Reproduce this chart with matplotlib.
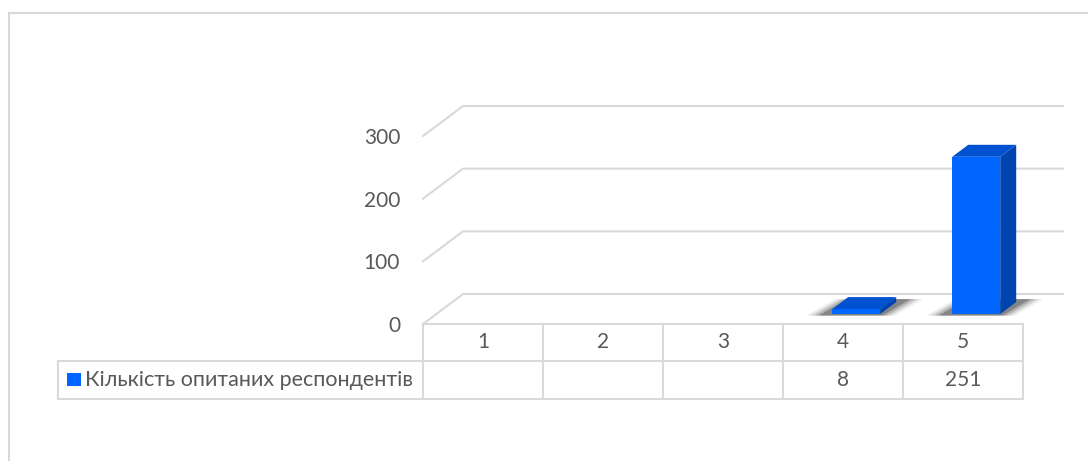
import numpy as np
import matplotlib.pyplot as plt
from matplotlib.patches import Polygon, Rectangle
from matplotlib.lines import Line2D

plt.rcParams['font.family'] = ['Lato', 'DejaVu Sans']

# дані
categories = ["1", "2", "3", "4", "5"]
values = [np.nan, np.nan, np.nan, 8, 251]
series_name = "Кількість опитаних респондентів"
y_ticks = [0, 100, 200, 300]

TXT = "#595959"
GRID = "#D9D9D9"
FRONT = "#0066FF"
SIDE = "#0044B0"
TOP = "#0052D0"
FS = 15

W, H = 1088, 461
fig = plt.figure(figsize=(W / 100, H / 100), dpi=100)

# область графіка (передня площина)
ax_l, ax_r, ax_b, ax_t = 423, 1023, 324, 136
ax = fig.add_axes([ax_l / W, (H - ax_b) / H, (ax_r - ax_l) / W, (ax_b - ax_t) / H])
ax.set_xlim(0, len(categories))
ax.set_ylim(0, 300)
for s in ax.spines.values():
    s.set_visible(False)
ax.set_xticks([])
ax.set_yticks(y_ticks)
ax.tick_params(axis="y", length=0, pad=16.5, labelsize=FS, labelcolor=TXT)

# глибина 3D (у пікселях -> одиниці даних)
px_x = len(categories) / (ax_r - ax_l)
px_y = 300 / (ax_b - ax_t)
DX, DY = 40 * px_x, 30 * px_y


def P(x, y, d):
    return (x + d * DX, y + d * DY)


# сітка: діагональ + задня стінка
for v in y_ticks:
    xs = [0, 0 + DX, len(categories) + DX]
    ys = [v, v + DY, v + DY]
    ax.plot(xs, ys, color=GRID, lw=1.5, clip_on=False, zorder=1)

# стовпчики
bw = 0.4
df, db = 0.33, 0.73
for i, v in enumerate(values):
    if np.isnan(v):
        continue
    xl, xr = i + 0.5 - bw / 2, i + 0.5 + bw / 2
    # тінь
    for k, a in enumerate([0.07, 0.11, 0.16, 0.24]):
        e = 0.14 - k * 0.035
        ax.add_patch(Polygon([P(xl - e - 0.06, 0, df - 0.05), P(xr + e, 0, df - 0.05),
                              P(xr + e + 0.05, 0, db + 0.1), P(xl - e, 0, db + 0.1)],
                             closed=True, fc="black", ec="none", alpha=a,
                             clip_on=False, zorder=2))
    ax.add_patch(Polygon([P(xr, 0, df), P(xr, 0, db), P(xr, v, db), P(xr, v, df)],
                         closed=True, fc=SIDE, ec="none", clip_on=False, zorder=3))
    ax.add_patch(Polygon([P(xl, v, df), P(xr, v, df), P(xr, v, db), P(xl, v, db)],
                         closed=True, fc=TOP, ec="none", clip_on=False, zorder=3))
    ax.add_patch(Polygon([P(xl, 0, df), P(xr, 0, df), P(xr, v, df), P(xl, v, df)],
                         closed=True, fc=FRONT, ec="none", clip_on=False, zorder=4))

# таблиця даних під графіком
tr = ax.get_xaxis_transform()
h_ax = ax_b - ax_t
r1 = -(361 - ax_b) / h_ax
r2 = -(399 - ax_b) / h_ax
leg_x = (58 - ax_l) * px_x
n = len(categories)
kw = dict(color=GRID, lw=1.5, transform=tr, clip_on=False, zorder=1)
ax.plot([0, n], [0, 0], **kw)
ax.plot([leg_x, n], [r1, r1], **kw)
ax.plot([leg_x, n], [r2, r2], **kw)
ax.plot([leg_x, leg_x], [r1, r2], **kw)
for j in range(n + 1):
    ax.plot([j, j], [0, r2], **kw)

for j, c in enumerate(categories):
    ax.text(j + 0.5, r1 / 2, c, ha="center", va="center", fontsize=FS,
            color=TXT, transform=tr)
    v = values[j]
    if not np.isnan(v):
        ax.text(j + 0.5, (r1 + r2) / 2, f"{v:g}", ha="center", va="center",
                fontsize=FS, color=TXT, transform=tr)

# легенда в таблиці
sq_x = (67 - ax_l) * px_x
sq_w = 14 * px_x
sq_y = -(386 - ax_b) / h_ax
sq_h = 13 / h_ax
ax.add_patch(Rectangle((sq_x, sq_y), sq_w, sq_h, fc=FRONT, ec="none",
                       transform=tr, clip_on=False))
ax.text((85 - ax_l) * px_x, (r1 + r2) / 2, series_name, ha="left", va="center",
        fontsize=15.5, color=TXT, transform=tr)

# рамка області діаграми
fig.add_artist(Line2D([8.5 / W, 8.5 / W], [0, (H - 13) / H], color=GRID, lw=1.5))
fig.add_artist(Line2D([8.5 / W, 1], [(H - 13) / H, (H - 13) / H], color=GRID, lw=1.5))

fig.savefig("out.png", dpi=100)
